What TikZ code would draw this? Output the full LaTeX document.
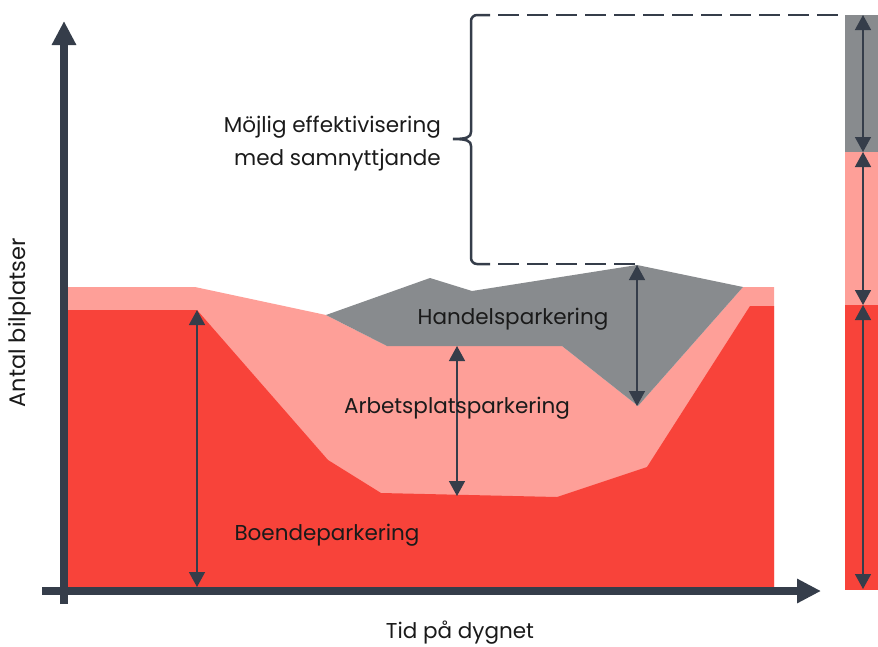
\documentclass[tikz,border=0pt]{standalone}
\usepackage{fontspec}
\setmainfont{Poppins}
\usetikzlibrary{arrows.meta}
\definecolor{redC}{HTML}{F8433A}
\definecolor{pinkC}{HTML}{FE9F98}
\definecolor{grayC}{HTML}{888B8E}
\definecolor{darkC}{HTML}{353D4A}
\definecolor{txtC}{HTML}{1A1A1A}
\tikzset{
  axis/.style={draw=darkC, line width=8pt, -{Triangle[length=24pt,width=23pt]}},
  dim/.style={draw=darkC, line width=1.5pt, {Triangle[length=15pt,width=16pt]}-{Triangle[length=15pt,width=16pt]}},
  lbl/.style={text=txtC, font=\fontsize{21.5}{33}\selectfont, inner sep=0pt},
  dashline/.style={draw=darkC, line width=2.5pt, dash pattern=on 21pt off 8pt},
  bracel/.style={draw=darkC, line width=2.5pt, line cap=butt},
}
\begin{document}
\begin{tikzpicture}[x=1pt,y=-1pt]
\useasboundingbox (0,0) rectangle (878,646);
% stacked areas
\fill[pinkC] (68,287) -- (195,287) -- (326,315) -- (387,346) -- (562,346) -- (638,406) -- (743,287) -- (774,287) -- (774,587) -- (68,587) -- cycle;
\fill[grayC] (326,315) -- (430,278) -- (472,291) -- (637,265) -- (743,287) -- (638,406) -- (562,346) -- (387,346) -- cycle;
\fill[redC] (68,310) -- (197,310) -- (328,460) -- (381,493) -- (557,497) -- (647,467) -- (750,306) -- (774,306) -- (774,587) -- (68,587) -- cycle;
% right bar
\fill[grayC] (845,15) rectangle (878,152);
\fill[pinkC] (845,152) rectangle (878,305);
\fill[redC] (845,305) rectangle (878,590);
% coordinates
\coordinate (yA) at (64,604);
\coordinate (yB) at (64,21);
\coordinate (xA) at (42,591);
\coordinate (xB) at (821,591);
\coordinate (b1) at (197,310);
\coordinate (b2) at (197,587);
\coordinate (a1) at (457,346);
\coordinate (a2) at (457,496);
\coordinate (h1) at (637,265);
\coordinate (h2) at (637,406);
\coordinate (r0) at (863,15);
\coordinate (r1) at (863,152);
\coordinate (r2) at (863,305);
\coordinate (r3) at (863,589);
% axes
\draw[axis] (xA) -- (xB);
\draw[axis] (yA) -- (yB);
% dimension arrows
\draw[dim] (b1) -- (b2);
\draw[dim] (a1) -- (a2);
\draw[dim] (h1) -- (h2);
\draw[dim] (r0) -- (r1);
\draw[dim] (r1) -- (r2);
\draw[dim] (r2) -- (r3);
% brace
\coordinate (bt) at (453,139);
\draw[bracel] (490,15) -- (477,15) arc[start angle=270,end angle=180,radius=6] -- (471,132)
  .. controls (471,137) and (467,139) .. (bt)
  .. controls (467,139) and (471,141) .. (471,146)
  -- (471,258) arc[start angle=180,end angle=90,radius=6] -- (490,264);
\draw[dashline] (498,15) -- (845,15);
\draw[dashline] (498,264) -- (637,264);
% labels
\node[lbl, anchor=east, align=right] (mojlig) at (441,144) {Möjlig effektivisering\\med samnyttjande};
\node[lbl] (handel) at (513,319) {Handelsparkering};
\node[lbl] (arbete) at (457,408) {Arbetsplatsparkering};
\node[lbl] (boende) at (327,535) {Boendeparkering};
\node[lbl, anchor=base] (tid) at (460,638) {Tid på dygnet};
\node[lbl, font=\fontsize{22.5}{27}\selectfont, rotate=90] (antal) at (20,323) {Antal bilplatser};
\end{tikzpicture}
\end{document}
